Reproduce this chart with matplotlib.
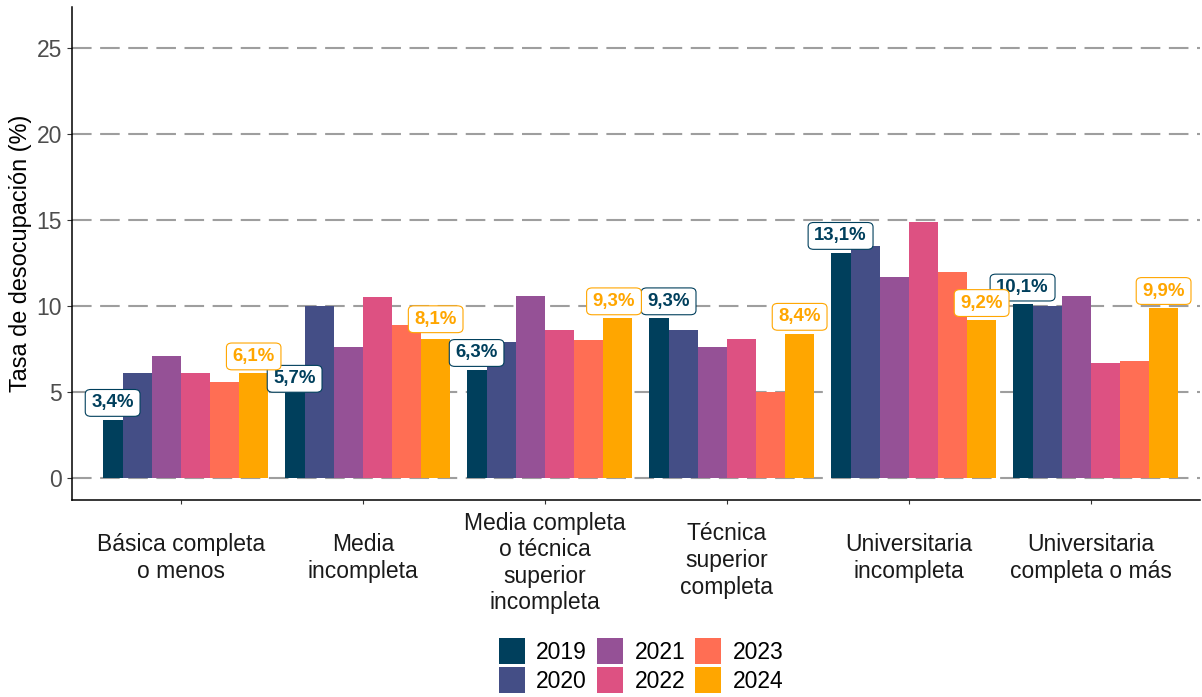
import matplotlib
matplotlib.use("Agg")
import matplotlib.pyplot as plt
from matplotlib.lines import Line2D
from matplotlib.transforms import blended_transform_factory
import numpy as np

CATEGORIES = [
    "Básica completa\no menos",
    "Media\nincompleta",
    "Media completa\no técnica\nsuperior\nincompleta",
    "Técnica\nsuperior\ncompleta",
    "Universitaria\nincompleta",
    "Universitaria\ncompleta o más",
]
YEARS = ["2019", "2020", "2021", "2022", "2023", "2024"]
V2019 = [3.4, 5.7, 6.3, 9.3, 13.1, 10.1]
V2020 = [6.1, 10.0, 7.9, 8.6, 13.5, 10.0]
V2021 = [7.1, 7.6, 10.6, 7.6, 11.7, 10.6]
V2022 = [6.1, 10.5, 8.6, 8.1, 14.9, 6.7]
V2023 = [5.6, 8.9, 8.0, 5.0, 12.0, 6.8]
V2024 = [6.1, 8.1, 9.3, 8.4, 9.2, 9.9]
SERIES = [V2019, V2020, V2021, V2022, V2023, V2024]

COLORS = ["#003f5c", "#444e86", "#955196", "#dd5182", "#ff6e54", "#ffa600"]
LABELLED = [0, 5]                       # years with value labels (2019, 2024)
# small repel-style nudges for labels: (category, year index) -> (dx, dy)
NUDGE = {(1, 0): (0.0, -0.9), (1, 5): (0.0, 0.16), (3, 0): (0.055, 0.0), (2, 5): (-0.02, 0.0)}

plt.rcParams["font.family"] = ["Liberation Sans", "DejaVu Sans"]

W, H = 1202, 697
fig = plt.figure(figsize=(W / 100, H / 100), dpi=100)
ax = fig.add_axes([71.7 / W, 1 - 500 / H, (1200 - 71.7) / W, (500 - 7.3) / H])

x = np.arange(1, len(CATEGORIES) + 1)
slot = 0.16
first_w = 0.11
for j, (vals, col) in enumerate(zip(SERIES, COLORS)):
    left = x - 3 * slot + j * slot
    width = slot
    if j == 0:
        left = left + slot - first_w
        width = first_w
    ax.bar(left, vals, width=width, align="edge", color=col, linewidth=0, zorder=2)
    if j in LABELLED:
        for i, v in enumerate(vals):
            dx, dy = NUDGE.get((i, j), (0.0, 0.0))
            ax.text(left[i] + width / 2 + dx, v + 0.97 + dy,
                    f"{v:.1f}".replace(".", ",") + "%",
                    ha="center", va="center", fontsize=13.4, fontweight="bold",
                    color=col, zorder=4,
                    bbox=dict(boxstyle="round,pad=0.33,rounding_size=0.3",
                              fc="white", ec=col, lw=0.8, mutation_aspect=0.8))

ax.set_xlim(0.4, 6.6)
ax.set_ylim(-1.27, 27.35)
ax.set_yticks(range(0, 30, 5))
ax.yaxis.grid(True, color="#9e9e9e", lw=1.5, ls=(0, (9.4, 4.1)))
ax.set_axisbelow(True)

# category labels, vertically centred like the original (slightly lower for taller blocks)
ax.set_xticks(x, [""] * len(x))
tr = blended_transform_factory(ax.transData, fig.transFigure)
for xi, lab in zip(x, CATEGORIES):
    n = lab.count("\n") + 1
    cy = 558 + 2.5 * (n - 2)
    ax.text(xi, 1 - cy / H, lab, transform=tr, ha="center", va="center",
            fontsize=16.5, color="#1a1a1a", linespacing=1.2)
ax.tick_params(axis="x", length=3, width=0.8, color="#333333")
ax.tick_params(axis="y", length=3.5, width=0.8, color="#333333", pad=3.6,
               labelsize=16.5, labelcolor="#4d4d4d")

for s in ("top", "right"):
    ax.spines[s].set_visible(False)
for s in ("left", "bottom"):
    ax.spines[s].set_linewidth(1.1)
    ax.spines[s].set_color("black")

ax.set_ylabel("Tasa de desocupación (%)", fontsize=16.9, color="black", labelpad=3)

handles = [Line2D([], [], marker="s", ls="none", markersize=19.4,
                  markerfacecolor=c, markeredgewidth=0) for c in COLORS]
fig.legend(handles, YEARS, ncol=3, loc="upper center",
           bbox_to_anchor=(641 / W, 1 - 641 / H), frameon=False, fontsize=16.5,
           handlelength=1.17, handletextpad=0.47, columnspacing=0.43,
           labelspacing=0.25, borderpad=0, borderaxespad=0)

fig.savefig("out.png", dpi=100)
